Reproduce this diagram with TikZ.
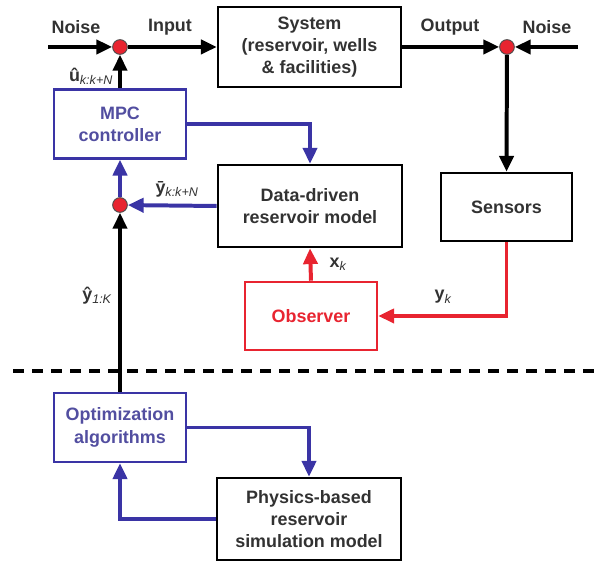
\documentclass[tikz,border=0pt]{standalone}
\usepackage{fontspec}
\setmainfont{Liberation Sans}
\usetikzlibrary{arrows.meta}
\definecolor{ctrlblue}{RGB}{58,52,165}
\definecolor{ctrltext}{RGB}{82,78,160}
\definecolor{obsred}{RGB}{232,36,48}
\definecolor{inkgray}{RGB}{50,50,50}
\newcommand{\blockfont}{\fontsize{15.3}{19}\selectfont\bfseries}
\newcommand{\sub}[1]{\textsubscript{\mdseries\itshape #1}}

\begin{document}
\begin{tikzpicture}[x=0.03cm, y=-0.03cm, every node/.style={font=\blockfont},
    block/.style={draw=black, line width=2.2pt, text=inkgray, align=center},
    ctrlblock/.style={block, draw=ctrlblue, text=ctrltext},
    obsblock/.style={block, draw=obsred, text=obsred},
    sumpt/.style={circle, draw=black!70, line width=0.8pt, fill=obsred, minimum size=0.44cm, inner sep=0pt},
    flow/.style={line width=3.4pt, -{Triangle[length=13.5pt,width=12pt]}},
    lbl/.style={text=inkgray, inner sep=1pt}]
    \useasboundingbox (0,0) rectangle (605,571);

    % Upper part: plant, sensing and the MPC loop
    \node[block, minimum width=5.49cm, minimum height=2.4cm] (system) at (309.5,47) {System\\(reservoir, wells\\\& facilities)};
    \node[ctrlblock, minimum width=3.96cm, minimum height=2.07cm] (mpc) at (120,124) {MPC\\controller};
    \node[block, minimum width=5.52cm, minimum height=2.46cm] (data) at (310,206) {Data-driven\\reservoir model};
    \node[block, minimum width=3.93cm, minimum height=2.04cm] (sensors) at (506.5,207) {Sensors};
    \node[obsblock, minimum width=3.96cm, minimum height=2.04cm] (observer) at (311,316) {Observer};

    % summing points and free ends of the noise inputs
    \node[sumpt] (sumin) at (120,47) {};
    \node[sumpt] (sumout) at (507,47) {};
    \node[sumpt] (sumy) at (120,205) {};
    \coordinate (noiseinL) at (48,47);
    \coordinate (noiseinR) at (578,47);

    % Lower part: offline optimization
    \node[ctrlblock, minimum width=3.96cm, minimum height=2.07cm] (opt) at (120,427.5) {Optimization\\algorithms};
    \node[block, minimum width=5.52cm, minimum height=2.46cm] (phys) at (309,519) {Physics-based\\reservoir\\simulation model};

    % separator
    \coordinate (sepL) at (13,371);
    \coordinate (sepR) at (600,371);
    \draw[line width=2.6pt, dash pattern=on 0.33cm off 0.24cm] (sepL) -- (sepR);

    % black signal paths
    \draw[flow] (noiseinL) -- (sumin);
    \draw[flow] (sumin) -- (system.west);
    \draw[flow] (system.east) -- (sumout);
    \draw[flow] (noiseinR) -- (sumout);
    \draw[flow] (sumout) -- (sensors.north);
    \draw[flow] (mpc.north) -- (sumin);
    \draw[flow] (opt.north) -- (sumy);

    % blue paths
    \draw[flow, draw=ctrlblue] (mpc.east) -| (data.north);
    \draw[flow, draw=ctrlblue] (data.west) -- (sumy);
    \draw[flow, draw=ctrlblue] (sumy) -- (mpc.south);
    \draw[flow, draw=ctrlblue] (opt.east) -| (phys.north);
    \draw[flow, draw=ctrlblue] (phys.west) -| (opt.south);

    % red paths
    \draw[flow, draw=obsred] (sensors.south) |- (observer.east);
    \draw[flow, draw=obsred] (observer.north) -- (data.south);

    % signal labels
    \node[lbl] (noiseLtxt) at (76,27) {Noise};
    \node[lbl] (inputtxt) at (170,27) {Input};
    \node[lbl] (outputtxt) at (450,27) {Output};
    \node[lbl] (noiseRtxt) at (547,27) {Noise};
    \node[lbl] (utxt) at (91,76) {û\sub{k:k+N}};
    \node[lbl] (ybartxt) at (177,189) {ȳ\sub{k:k+N}};
    \node[lbl] (yhattxt) at (97,296) {ŷ\sub{1:K}};
    \node[lbl] (xtxt) at (338,264) {x\sub{k}};
    \node[lbl] (ytxt) at (443,297) {y\sub{k}};
\end{tikzpicture}
\end{document}
